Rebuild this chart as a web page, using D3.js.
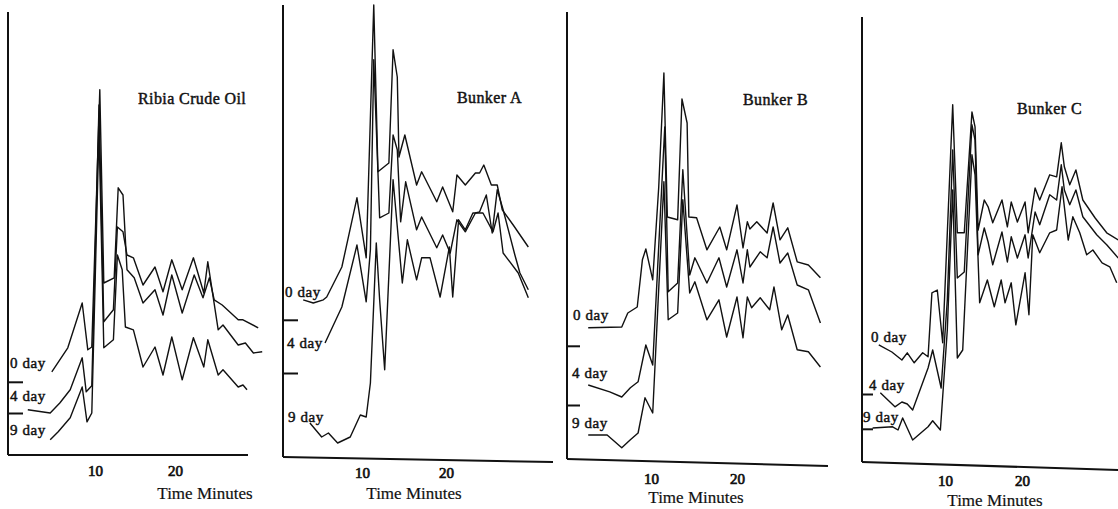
<!DOCTYPE html>
<meta charset="utf-8">
<style>
body{margin:0;background:#fff;}
svg{display:block;}
.trace{fill:none;stroke:#111;stroke-width:1.4px;stroke-linejoin:round;}
.axis path{display:none;}
.axis line, .frame{stroke:#111;stroke-width:2px;}
text{font-family:"Liberation Serif","DejaVu Serif",serif;fill:#111;stroke:#111;stroke-width:0.45px;}
.tick text{font-size:15px;stroke-width:0.7px;}
</style>
<body>
<script src="https://d3js.org/d3.v7.min.js"></script>
<script>
var titles = ["Ribia Crude Oil", "Bunker A", "Bunker B", "Bunker C"];
var dayLabels = ["0 day", "4 day", "9 day"];
var xTicks = [10, 20];
var xCaption = "Time Minutes";

// [minutes, detector response]
var ribia0 = [[4.6,20.8],[6.6,26.8],[8.4,38],[9.1,26.3],[9.6,27],[10.6,91.3],[11.1,43],[12.4,44.3],[12.9,66.8],[13.5,65],[14,46.3],[14.9,44.3],[16,38],[17.5,41.3],[18.5,35],[19.6,45],[20.9,35.5],[22.4,45],[23.5,39.3],[24.3,44.3],[24.9,38.8],[25.9,37.5],[27.9,33.8],[28.5,33.8],[30.4,31.8]];
var ribia4 = [[1.6,11.3],[4.4,10.5],[5.6,13],[6.9,16.3],[8.4,24.3],[8.9,15.8],[9.6,17.3],[10.5,87.5],[11.1,33.3],[12.3,36.3],[12.8,57],[13.5,55.8],[14,50],[14.8,49.3],[16,42.5],[17.5,47],[18.5,40.8],[19.6,48.8],[20.9,41.3],[22.3,49.3],[23.6,40.5],[24.1,48.3],[25.4,31.3],[26,32.5],[27.9,27.5],[28.8,28],[29.8,25.5],[30.9,25.8]];
var ribia9 = [[4.4,3.8],[5.4,5.8],[6.9,9.3],[8.4,17],[9,8.3],[9.6,10.5],[10.5,81.3],[11.1,26.8],[12.3,28.8],[12.8,50],[13.4,46.3],[13.8,32],[14.8,31.3],[16,22],[17.5,27],[18.5,20],[19.6,29.5],[20.9,18.8],[22.3,29.3],[23.6,22],[24.1,28.8],[25.4,20],[26,21.3],[27.9,17],[28.5,17.5],[29,16.3]];

var bunkerA0 = [[3,39.3],[4.2,38.5],[5.4,39.3],[5.8,40],[7.6,47.5],[9.4,64.8],[10.5,49.8],[11.4,113],[11.9,71.3],[13.2,73.5],[13.7,101.8],[14.2,95],[14.4,75],[15.1,80.5],[16.5,68],[17.1,71.3],[18.9,63.8],[19.6,67.5],[20.8,61.3],[21.3,70.5],[22.3,68],[23.5,71],[24,71],[24.5,73],[25.4,68],[26.1,68],[26.7,61.8],[28,58],[29.8,52.5]];
var bunkerA4 = [[5.6,28.5],[7.6,37.5],[9.4,53],[10.5,38.8],[11,51.8],[11.4,99.3],[12.1,59.8],[13.2,61],[13.7,80.5],[14.2,76.8],[14.6,58.8],[15.2,68.8],[16.5,56.8],[17.1,60],[18.9,52.3],[19.6,55.5],[20.5,51],[21.3,59.3],[22.3,56.3],[23.5,61],[24,61.3],[24.8,65.5],[25.5,56],[26.1,66.8],[26.8,61.8],[28.2,50.5],[28.8,46],[29.8,41.8]];
var bunkerA9 = [[3.8,8.5],[5.2,5],[6,6],[7.1,3.5],[8.6,5],[9.8,10.5],[10.5,10],[11,18.5],[11.7,53.5],[12.1,39.3],[12.7,21.8],[13.7,69.3],[14.8,43.5],[15.4,54.3],[16.5,44.3],[17.1,49.8],[18.1,49.8],[19.3,40],[20.4,52.5],[20.8,40],[21.5,59.3],[22.3,56.8],[23.2,61],[24.4,61],[25.6,56.3],[26.2,61],[26.8,51],[28.6,46],[29.8,39.8]];

var bunkerB0 = [[2.7,32.8],[6.6,33],[7.3,36.5],[8.4,38],[9,49.8],[9.4,52.5],[10.2,44.8],[10.9,68],[11.5,96.5],[11.9,60.5],[13.1,59.8],[13.6,90],[14.2,84],[14.4,60.5],[15.3,60.3],[16.5,52.3],[18,58],[18.8,52.3],[20,63.5],[20.7,52.8],[21.2,59.3],[21.5,57.5],[22.3,59.3],[23.5,56.5],[24.2,64],[25,54.8],[25.9,57.8],[27,49.3],[28.3,48.5],[29.7,45.3]];
var bunkerB4 = [[2.7,18.5],[5.2,16.8],[6.6,15.5],[7.6,17.8],[8.5,19.3],[9.4,28.5],[10.2,23.5],[11.6,83],[12,41.8],[13.1,44],[13.7,72.3],[14.5,46],[15.1,50.3],[16.5,44],[17.9,50.3],[18.8,43],[20,52.3],[20.7,44],[21.2,52.3],[21.5,48],[22.7,51.8],[23.5,50.3],[24.2,58],[25,49],[25.9,51.5],[27,43.5],[28.3,42.3],[29.7,34]];
var bunkerB9 = [[2.7,6],[4.9,6],[6.6,2.8],[7.6,4.8],[8.5,6.5],[9.3,15.3],[10.2,11.5],[11.5,69.3],[12,34.8],[13.1,36.5],[13.7,64.8],[14.5,41.5],[15.1,44.3],[16.5,34.8],[17.9,39.8],[18.8,30.5],[20,40.5],[20.7,30.3],[21.2,40.5],[21.7,37.8],[22.7,40.3],[23.8,37.3],[24.3,43],[25.2,32.3],[25.9,36],[27,27.3],[28.3,26.8],[29.7,23]];

var bunkerC0 = [[1.4,29.3],[3.1,27.5],[4.4,25.5],[5.1,27.3],[6,24.8],[7.1,27.3],[7.8,26.3],[8.3,42.3],[9,43],[9.7,29.8],[11,89.3],[11.6,57.3],[12.5,57.3],[13.5,87.5],[13.9,83.8],[14.3,58],[15.1,65.5],[15.6,63.8],[16.2,59.8],[17.4,65.5],[18.1,58.8],[18.6,65],[19.4,60],[20.4,65],[20.8,57.3],[21.7,68.5],[22.3,65.5],[23.6,71.8],[24.5,71.3],[25.1,79.8],[25.5,73.8],[26.2,69.3],[27,73],[27.9,65.5],[29.5,61],[31,57.3],[32.5,55.5]];
var bunkerC4 = [[1.6,17.3],[3.5,13.8],[4.4,15],[5.1,14.5],[5.8,13],[7.8,23.5],[8.4,28],[9.5,18.5],[10.3,40.5],[11,78],[11.6,46],[12.5,47.5],[13.5,84.3],[13.9,80.5],[14.3,51.8],[15.1,58.5],[15.6,55],[16.2,49.3],[17.4,57.5],[18.1,50],[18.6,56.3],[19.4,51],[20.4,56.8],[20.8,51],[21.7,62.5],[22.3,59.3],[23.6,66.8],[24.5,65.5],[25.1,74.3],[25.5,68],[26.2,64.3],[27,68],[27.9,61.3],[29.7,56.8],[31,54.3],[32.5,51]];
var bunkerC9 = [[0.6,8.5],[3.2,8.8],[3.9,8],[4.5,11],[5.8,5.5],[7.8,8.8],[8.4,10.3],[9.4,8],[10.3,33],[11,68],[11.6,26],[12.3,28],[13.5,76.8],[13.9,71.8],[14.5,39.8],[15.5,45.5],[16.4,38.8],[17.3,45.5],[17.8,39.8],[18.6,44.8],[19.2,34.3],[20.4,47.3],[20.9,36.8],[21.4,56.8],[22.3,52.3],[23.6,57.3],[24.5,58],[25.2,68.8],[26,55.5],[26.6,61.3],[27.5,57.3],[28.4,51.8],[29.2,53],[30.4,49.8],[31.4,48.8],[32.3,44.8]];

// baseline markers on the response axis, one pair per panel
var baseMarks = [[18.3, 10.5], [34.3, 21], [28.3, 13.5], [17, 8.3]];

var svgW = 1118, svgH = 509;

// layout of each panel (pixels)
var panels = [
  {series:[ribia0, ribia4, ribia9], ax:8, top:12, base:455, end:248, drop:0, t10:95, t20:175, tickLen:15, pad:10,
   labelX:[10, 10, 10], labelY:[21.8, 13.5, 5], titleX:138, titleY:104, capX:205, capY:499},
  {series:[bunkerA0, bunkerA4, bunkerA9], ax:283, top:5, base:457, end:553, drop:5, t10:362, t20:446, tickLen:15, pad:10,
   labelX:[285, 287, 288], labelY:[40, 27.3, 8.8], titleX:457, titleY:103, capX:414, capY:499},
  {series:[bunkerB0, bunkerB4, bunkerB9], ax:567, top:12, base:459, end:828, drop:7, t10:651, t20:737, tickLen:13, pad:14,
   labelX:[573, 572, 572], labelY:[34.8, 20.3, 7.8], titleX:743, titleY:105, capX:696, capY:503},
  {series:[bunkerC0, bunkerC4, bunkerC9], ax:862, top:17, base:462, end:1118, drop:8, t10:945, t20:1022, tickLen:11, pad:13,
   labelX:[871, 869, 863], labelY:[30, 18, 10], titleX:1017, titleY:114, capX:995, capY:506}
];

var svg = d3.select("body").append("svg").attr("width", svgW).attr("height", svgH);

panels.forEach(function(p, i){
  var g = svg.append("g").attr("class", "panel");
  var x = d3.scaleLinear().domain(xTicks).range([p.t10, p.t20]);
  var y = d3.scaleLinear().domain([0, 110]).range([p.base, p.base - 440]);

  // axis frame
  g.append("line").attr("class", "frame")
    .attr("x1", p.ax).attr("y1", p.top).attr("x2", p.ax).attr("y2", p.base);
  g.append("line").attr("class", "frame")
    .attr("x1", p.ax).attr("y1", p.base).attr("x2", p.end).attr("y2", p.base + p.drop);

  var xa = x.copy().domain([x.invert(p.ax), x.invert(p.end)]).range([p.ax, p.end]);
  g.append("g").attr("class", "axis")
    .attr("transform", "translate(0," + p.base + ")")
    .call(d3.axisBottom(xa).tickValues(xTicks).tickSize(0).tickPadding(p.pad));

  g.append("g").attr("class", "axis")
    .attr("transform", "translate(" + p.ax + ",0)")
    .call(d3.axisRight(y).tickValues(baseMarks[i]).tickSize(p.tickLen).tickFormat(""));

  var line = d3.line().x(function(d){ return x(d[0]); }).y(function(d){ return y(d[1]); });
  g.selectAll("path.trace").data(p.series).enter().append("path")
    .attr("class", "trace").attr("d", line);

  g.selectAll("text.day").data(dayLabels).enter().append("text")
    .attr("class", "day")
    .attr("x", function(d, j){ return p.labelX[j]; })
    .attr("y", function(d, j){ return y(p.labelY[j]); })
    .style("font-size", "15px").style("letter-spacing", "0.6px")
    .text(function(d){ return d; });

  g.append("text").attr("x", p.titleX).attr("y", p.titleY)
    .style("font-size", "16px").style("letter-spacing", "0.4px")
    .text(titles[i]);

  g.append("text").attr("x", p.capX).attr("y", p.capY)
    .attr("text-anchor", "middle")
    .style("font-size", "17px").style("stroke-width", "0.2px")
    .text(xCaption);
});
</script>
</body>
